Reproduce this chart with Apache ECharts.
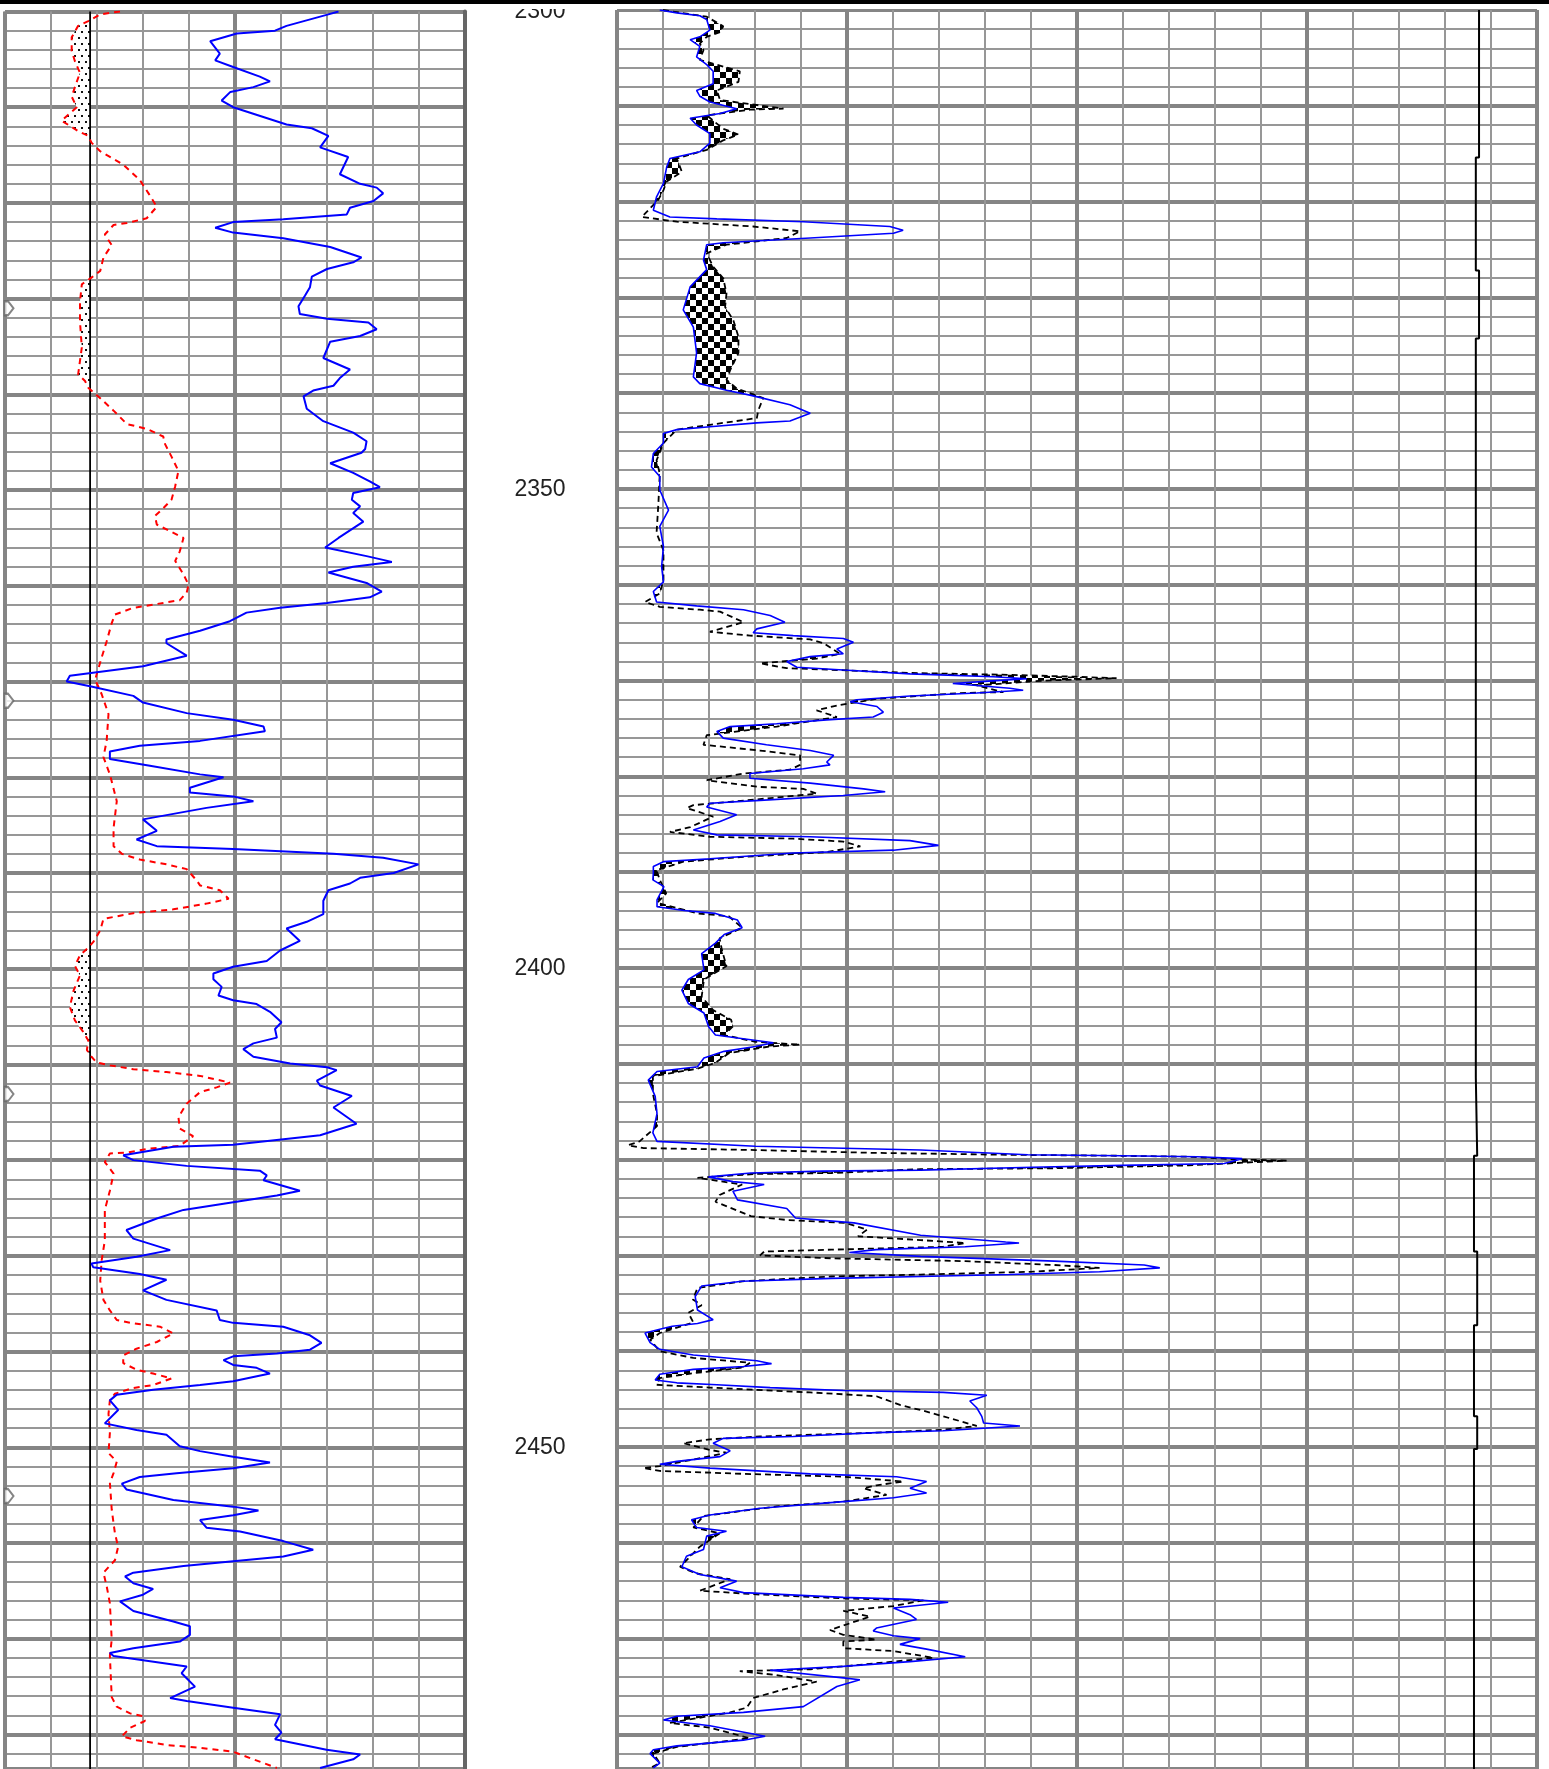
<!DOCTYPE html>
<html><head><meta charset="utf-8">
<script src="https://cdn.jsdelivr.net/npm/echarts@6/dist/echarts.min.js"></script>
<style>html,body{margin:0;padding:0;background:#fff}#c{width:1549px;height:1769px}</style>
</head><body><div id="c"></div>
<script>
// ---- data: [depth, value] (value in track grid divisions) ----
const depthTicks = [2300, 2350, 2400, 2450];
const leftBlue = [[2300,7.25],[2300.3,7.03],[2301.5,6.12],[2302,5.87],[2302.3,5.04],[2303.1,4.46],[2304.4,4.67],[2305.1,4.57],[2305.8,4.96],[2306.8,5.54],[2307.3,5.76],[2307.9,5.4],[2308.4,4.9],[2309.3,4.71],[2310,4.96],[2311.8,6.12],[2312.2,6.67],[2313,7.03],[2314.2,6.85],[2315.2,7.46],[2317,7.28],[2318,7.72],[2318.4,8.08],[2319,8.22],[2319.8,8.01],[2320.5,7.5],[2321.2,7.43],[2321.7,6.05],[2322,4.96],[2322.6,4.57],[2323.1,4.96],[2323.7,6.05],[2324.6,7.07],[2325.7,7.75],[2326.2,7.57],[2326.9,7.0],[2327.7,6.67],[2328.8,6.63],[2329.7,6.52],[2330.8,6.38],[2331.6,6.41],[2332.1,7.0],[2332.5,7.9],[2333.2,8.08],[2333.9,7.72],[2334.5,7.07],[2336.2,6.92],[2337.4,7.5],[2338.3,7.28],[2339.1,7.14],[2339.6,6.7],[2340.2,6.49],[2341.5,6.56],[2342.8,6.92],[2344,7.57],[2344.9,7.86],[2345.7,7.83],[2346.1,7.75],[2347.2,7.07],[2348.2,7.57],[2349.1,7.93],[2349.7,8.15],[2350.3,7.57],[2351,7.54],[2351.7,7.72],[2352.4,7.57],[2353.3,7.79],[2355,7.25],[2356,6.96],[2356.9,7.86],[2357.5,8.41],[2358,7.57],[2358.6,7.03],[2359.7,7.86],[2360.6,8.19],[2361.2,7.93],[2361.8,7.0],[2362.3,5.98],[2362.8,5.25],[2363.7,4.89],[2364.7,4.24],[2365.6,3.51],[2366,3.51],[2367.3,3.95],[2368.4,3.0],[2369.4,1.41],[2370,1.34],[2370.5,1.85],[2371.5,2.79],[2372.2,3.0],[2373.3,3.95],[2374,4.96],[2374.7,5.62],[2375.2,5.65],[2376.2,4.24],[2376.7,2.93],[2377.3,2.28],[2378.1,2.28],[2378.8,3.15],[2379.7,4.24],[2380,4.75],[2381.1,4.02],[2381.6,4.02],[2382,4.96],[2382.5,5.4],[2383.2,4.38],[2384.4,3.0],[2385.6,3.3],[2386.5,2.86],[2387.2,3.3],[2387.5,4.96],[2388,7.14],[2388.4,8.22],[2389.1,8.99],[2390,8.45],[2390.5,7.72],[2391.1,7.5],[2391.8,7.03],[2392.9,6.92],[2394.3,6.92],[2395.1,6.56],[2395.8,6.12],[2397.1,6.41],[2398.1,5.98],[2399.2,5.69],[2399.8,4.96],[2400.5,4.53],[2401.1,4.53],[2401.9,4.71],[2402.8,4.64],[2403.3,4.96],[2403.7,5.47],[2404.5,5.76],[2405.6,6.01],[2406.3,5.87],[2407.2,5.91],[2407.8,5.4],[2408.4,5.18],[2409.2,5.4],[2409.9,6.2],[2410.3,7.0],[2410.6,7.21],[2411.7,6.78],[2412.2,6.85],[2413.3,7.54],[2414.5,7.14],[2416.2,7.64],[2417.4,6.85],[2418.4,4.96],[2418.6,3.66],[2419.5,2.57],[2420,2.79],[2420.6,3.95],[2421.1,5.54],[2421.6,5.69],[2422.1,5.62],[2423.2,6.41],[2423.7,5.91],[2424.4,4.96],[2425.2,3.88],[2426.1,3.3],[2427.3,2.64],[2428.2,2.79],[2429.4,3.59],[2430.1,2.86],[2430.8,1.88],[2431.2,1.92],[2431.9,2.93],[2432.5,3.51],[2433.6,3.0],[2434.6,3.51],[2435.7,4.6],[2436.7,4.67],[2437.0,4.96],[2437.4,6.05],[2438.3,6.63],[2439.1,6.88],[2439.8,6.63],[2440.2,5.91],[2440.5,4.96],[2440.9,4.75],[2441.4,4.96],[2441.7,5.47],[2442.3,5.76],[2443.1,4.96],[2443.5,4.24],[2444,3.22],[2444.5,2.43],[2445.1,2.28],[2446.1,2.46],[2447.5,2.17],[2448.2,2.86],[2448.7,3.51],[2449.9,3.8],[2450.4,4.24],[2451,4.96],[2451.6,5.76],[2452.2,4.96],[2452.7,3.73],[2453.1,2.93],[2453.8,2.54],[2454.4,2.64],[2455.5,3.66],[2456.2,4.96],[2456.6,5.51],[2457.1,4.96],[2457.6,4.24],[2458.4,4.38],[2458.8,5.11],[2459.8,6.05],[2460.7,6.7],[2461.4,6.05],[2461.9,4.96],[2462.4,3.88],[2463.1,2.79],[2463.5,2.61],[2464.2,2.79],[2464.8,3.22],[2465.4,3.0],[2466.1,2.5],[2467.1,2.79],[2468.2,3.66],[2468.7,4.02],[2469.6,4.02],[2470.3,3.8],[2471,2.79],[2471.5,2.28],[2471.8,2.36],[2472.9,3.95],[2473.6,3.84],[2475,4.13],[2476.2,3.59],[2476.5,3.95],[2477.2,4.96],[2477.9,5.98],[2479,5.87],[2479.8,6.01],[2480.5,5.87],[2481.6,6.99],[2482.1,7.72],[2482.6,7.57],[2483.5,6.85]];
const leftRed = [[2300,2.5],[2300.3,2.07],[2301,1.81],[2301.5,1.59],[2302.7,1.45],[2304.1,1.45],[2305.2,1.52],[2306.4,1.63],[2307.9,1.52],[2308.9,1.45],[2310,1.56],[2311.4,1.23],[2312.5,1.59],[2313,1.81],[2313.7,1.88],[2314.6,2.07],[2316,2.57],[2317.6,2.93],[2319,3.12],[2320.4,3.3],[2321.6,3.08],[2322.1,2.65],[2322.3,2.36],[2323.3,2.17],[2324.4,2.32],[2325.7,2.14],[2327.1,2.07],[2327.8,1.88],[2328.5,1.67],[2330.3,1.63],[2332.4,1.63],[2335.1,1.67],[2336.5,1.63],[2337.9,1.59],[2338.6,1.74],[2339.3,1.81],[2340.4,2.07],[2341.7,2.36],[2343.1,2.65],[2343.6,3.08],[2344.4,3.44],[2345.2,3.48],[2346.5,3.62],[2348,3.77],[2349.6,3.7],[2351,3.62],[2351.9,3.44],[2352.7,3.26],[2353.6,3.3],[2354.3,3.59],[2355,3.88],[2356.4,3.8],[2357.4,3.7],[2358.8,3.88],[2359.9,3.99],[2360.7,3.95],[2361.5,3.8],[2361.9,3.3],[2362.3,2.79],[2363,2.39],[2363.9,2.32],[2365.8,2.21],[2367.5,2.1],[2369.8,1.96],[2371.3,2.1],[2373.4,2.25],[2376.2,2.21],[2377.9,2.14],[2379.7,2.28],[2382.5,2.43],[2385.3,2.36],[2387.2,2.36],[2388,2.54],[2388.6,2.93],[2389.1,3.51],[2389.6,3.95],[2390.8,4.17],[2391.3,4.24],[2391.8,4.67],[2392.7,4.86],[2393.2,4.38],[2393.8,3.66],[2394.2,2.79],[2394.8,2.14],[2396,2.07],[2397.2,1.92],[2397.8,1.81],[2398.6,1.63],[2399.7,1.52],[2400.7,1.63],[2402.3,1.49],[2404,1.41],[2405.4,1.52],[2406.6,1.7],[2407.5,1.81],[2408.5,1.78],[2409.2,1.88],[2409.8,1.99],[2410.1,2.28],[2410.5,2.79],[2410.8,3.51],[2411.2,4.24],[2411.9,4.89],[2412.4,4.6],[2412.9,4.24],[2414.1,3.95],[2415.5,3.77],[2416.7,3.8],[2417.5,4.09],[2418.5,3.8],[2418.8,3.15],[2419.2,2.65],[2419.3,2.28],[2420.2,2.17],[2421.4,2.36],[2423.2,2.28],[2425.2,2.17],[2428.4,2.17],[2430.5,2.1],[2432.6,2.07],[2434.6,2.14],[2435.7,2.28],[2436.7,2.43],[2437.0,2.72],[2437.4,3.37],[2438.1,3.66],[2439,3.3],[2439.7,2.86],[2440.4,2.57],[2441.2,2.57],[2441.9,2.86],[2442.3,3.22],[2442.8,3.62],[2443.5,3.22],[2443.8,2.79],[2444.4,2.39],[2445.1,2.28],[2446.5,2.25],[2448.5,2.28],[2450.6,2.25],[2451.5,2.43],[2452.7,2.36],[2453.7,2.28],[2456.5,2.32],[2459,2.39],[2460.4,2.46],[2461.8,2.39],[2463.1,2.14],[2464.5,2.21],[2466.3,2.28],[2470.1,2.32],[2471.8,2.28],[2476.1,2.32],[2477.1,2.43],[2477.8,2.72],[2478.1,3.01],[2478.6,3.04],[2479.3,2.72],[2480.2,2.54],[2480.6,2.86],[2481.1,3.51],[2481.4,4.24],[2481.8,4.96],[2482.6,5.4],[2483.5,5.91]];
const shaleBase = 1.85;
const tabDepths = [2331, 2372, 2413.1, 2455.1];
const rightBlue = [[2300,0.93],[2300.3,1.3],[2300.6,1.8],[2301,1.95],[2302.1,2.02],[2302.8,1.8],[2303.1,1.59],[2303.8,1.8],[2304.9,1.73],[2305.7,1.95],[2306.4,2.09],[2307.7,2.09],[2308.4,1.73],[2309,1.8],[2309.6,2.02],[2310.3,2.6],[2310.8,2.24],[2311.3,1.59],[2312,1.73],[2312.9,2.02],[2313.9,2.02],[2314.8,1.8],[2315.5,1.15],[2316.4,1.08],[2318.1,1.01],[2319.5,0.86],[2320.9,0.79],[2321.6,1.15],[2321.8,2.17],[2322.1,4.05],[2322.6,5.93],[2323,6.22],[2323.3,6.01],[2323.8,4.2],[2324.3,2.31],[2324.5,1.95],[2326.1,1.88],[2327.1,1.95],[2328.9,1.59],[2331.3,1.44],[2333.1,1.66],[2335.8,1.73],[2338.3,1.66],[2339,1.8],[2339.7,2.38],[2340.2,2.89],[2341.2,3.76],[2342.1,4.2],[2342.9,3.76],[2343.1,3.04],[2343.5,2.02],[2343.8,1.3],[2344.2,1.01],[2345.2,1.01],[2346.3,0.79],[2347.7,0.75],[2348.7,0.93],[2350.1,0.93],[2352.2,1.12],[2353.9,0.93],[2356,1.01],[2358.1,0.97],[2359.7,1.01],[2360.7,0.79],[2361.8,0.86],[2362.2,1.73],[2362.6,2.75],[2363.2,3.33],[2363.9,3.65],[2364.6,3.04],[2365,2.96],[2365.3,3.83],[2365.6,4.92],[2366,5.14],[2366.7,4.78],[2367.2,4.92],[2367.5,4.2],[2368,3.69],[2368.6,3.91],[2368.9,4.92],[2369.3,6.37],[2369.6,8.18],[2369.8,8.91],[2370,8.25],[2370.3,7.3],[2370.8,8.54],[2371,8.83],[2371.3,7.82],[2371.6,6.37],[2372,5.21],[2372.2,5.07],[2372.7,5.65],[2373.3,5.79],[2373.8,5.57],[2374.1,4.56],[2374.5,3.47],[2374.8,2.46],[2375.3,2.17],[2376,2.31],[2376.7,3.25],[2377.3,4.2],[2377.8,4.71],[2378.5,4.56],[2378.8,4.63],[2379.2,4.05],[2379.7,2.89],[2380.2,2.89],[2380.7,4.2],[2381.3,5.36],[2381.6,5.83],[2382,4.92],[2382.5,3.11],[2382.8,2.02],[2383.2,1.95],[2384,2.6],[2384.7,2.24],[2385.6,1.66],[2386.1,2.17],[2386.3,4.2],[2386.7,6.37],[2387.2,6.99],[2387.7,6.01],[2388,3.83],[2388.6,2.02],[2388.9,1.01],[2389.4,0.79],[2390.1,0.79],[2390.8,0.78],[2391.5,1.02],[2392.9,0.87],[2393.6,0.87],[2394,1.46],[2394.3,2.14],[2395,2.62],[2395.8,2.72],[2396.5,2.33],[2397.4,2.14],[2398.5,1.84],[2400.2,1.89],[2401.2,1.55],[2402.3,1.41],[2403.7,1.55],[2404.7,1.89],[2406.1,1.99],[2407,2.14],[2407.3,2.62],[2407.8,3.4],[2408.2,3.01],[2408.7,2.33],[2409.4,1.89],[2410.3,1.75],[2410.8,0.87],[2411.7,0.68],[2413.4,0.83],[2415.2,0.87],[2417.2,0.78],[2418.1,0.87],[2418.6,3.01],[2419,6.6],[2419.5,8.93],[2419.6,10.97],[2419.7,12.62],[2419.9,13.59],[2420.4,13.2],[2420.6,10.97],[2420.8,9.03],[2421.1,6.6],[2421.2,4.47],[2421.4,2.91],[2421.8,1.99],[2422.3,2.52],[2422.6,3.2],[2423.3,2.52],[2424.2,2.62],[2425.1,3.69],[2426.1,3.88],[2426.6,5.15],[2427.9,6.6],[2428.6,8.45],[2428.7,8.74],[2429.1,7.57],[2429.4,5.63],[2429.7,5.05],[2430.1,6.6],[2430.6,9.51],[2431,11.46],[2431.3,11.8],[2431.7,10.49],[2432,8.54],[2432.2,6.6],[2432.4,4.66],[2432.7,2.72],[2433.2,1.84],[2434.3,1.7],[2435.7,1.75],[2436.7,2.09],[2437.1,1.75],[2437.4,1.2],[2437.7,0.93],[2438.1,0.61],[2439.1,0.72],[2439.8,0.93],[2440.4,1.66],[2441,3.04],[2441.3,3.36],[2441.6,2.75],[2441.9,1.66],[2442.4,0.93],[2443,0.83],[2443.3,1.3],[2443.5,2.17],[2443.8,3.33],[2444.1,4.92],[2444.3,7.09],[2444.6,8.04],[2445.2,7.67],[2445.9,7.82],[2446.8,7.93],[2447.5,7.97],[2447.8,8.76],[2448.3,7.09],[2448.5,5.64],[2448.9,3.83],[2449.1,2.31],[2449.6,2.09],[2450.4,2.46],[2451,2.24],[2451.5,1.3],[2451.8,0.93],[2452.2,2.02],[2452.8,4.2],[2453.1,6.08],[2453.6,6.73],[2454.3,6.37],[2454.8,6.73],[2455.3,6.01],[2455.7,4.92],[2456.4,3.11],[2457.1,2.02],[2457.6,1.62],[2458.4,1.73],[2458.8,2.38],[2459.3,1.95],[2460.7,1.88],[2461.4,1.51],[2462.5,1.41],[2463.3,1.8],[2464,2.6],[2464.7,2.24],[2465.2,2.75],[2465.7,4.92],[2465.9,6.37],[2466.2,7.2],[2466.8,6.01],[2467.5,6.37],[2468,6.51],[2468.9,5.64],[2469.2,5.57],[2469.7,6.01],[2470,6.59],[2470.6,6.15],[2471.1,6.73],[2471.9,7.57],[2472.4,6.37],[2472.9,4.92],[2473.3,3.33],[2474.1,4.92],[2474.3,5.28],[2475,4.78],[2477.1,4.05],[2477.7,2.75],[2478.1,1.3],[2478.5,1.01],[2479.1,2.02],[2480.2,3.22],[2480.6,2.75],[2481.2,1.3],[2481.6,0.79],[2482,0.72],[2483,0.93],[2483.5,0.79]];
const rightDash = [[2300,1.0],[2300.7,1.95],[2301.7,2.31],[2302.3,2.24],[2302.8,1.95],[2303.5,1.8],[2304.2,1.88],[2305.2,1.8],[2306.4,2.67],[2307.5,2.64],[2308.4,2.17],[2309.4,2.24],[2310.3,3.62],[2310.4,2.89],[2311,1.95],[2312.4,2.31],[2313,2.64],[2313.6,2.31],[2314.6,1.95],[2315.5,1.3],[2316.9,1.41],[2317.9,1.08],[2318.8,1.01],[2319.8,0.9],[2321.6,0.54],[2322.1,1.3],[2322.6,2.96],[2323.1,3.98],[2323.8,3.69],[2324.5,2.38],[2325.4,1.95],[2326.8,2.09],[2328,2.31],[2329.6,2.38],[2331,2.35],[2332.4,2.53],[2334.1,2.64],[2335.8,2.64],[2337.6,2.46],[2338.6,2.38],[2339.5,2.6],[2340.5,3.18],[2341.8,3.07],[2342.6,3.04],[2343.3,2.02],[2343.8,1.3],[2345.2,1.01],[2347,0.86],[2348.4,0.93],[2351.5,0.9],[2354.6,0.86],[2356.4,1.01],[2359.5,1.01],[2360.9,0.93],[2361.8,0.61],[2362.3,0.93],[2362.6,1.8],[2362.8,2.24],[2363.9,2.75],[2364.9,2.02],[2365.3,2.89],[2365.7,4.2],[2366.1,4.49],[2367.2,4.85],[2367.7,4.34],[2368.2,3.11],[2368.7,3.69],[2368.9,4.8],[2369.2,6.37],[2369.4,8.54],[2369.6,9.99],[2369.75,10.86],[2370,9.27],[2370.5,7.82],[2371.2,8.4],[2371.3,7.46],[2371.9,5.65],[2372.6,4.78],[2373.1,4.34],[2373.8,4.78],[2374.8,3.47],[2375.7,1.95],[2376.7,1.88],[2377.3,3.11],[2377.8,3.98],[2378.8,3.98],[2379.3,3.76],[2379.7,2.75],[2380.4,1.95],[2381.1,3.11],[2381.3,4.05],[2381.8,4.34],[2382.4,3.04],[2383,1.66],[2383.3,1.52],[2384.2,2.09],[2385.3,1.59],[2385.8,1.15],[2386.3,2.02],[2386.5,3.83],[2386.8,4.92],[2387.3,5.29],[2387.9,4.56],[2388.4,2.75],[2388.9,1.44],[2389.8,0.86],[2390.8,0.93],[2392.2,1.07],[2393.2,0.87],[2394.3,1.75],[2394.6,2.43],[2395.8,2.72],[2396.9,2.23],[2398.1,2.28],[2399.8,2.38],[2401.2,1.89],[2403,1.84],[2404.4,2.09],[2405.4,2.48],[2406.1,2.52],[2407,2.33],[2407.7,3.01],[2408,3.98],[2408.2,3.3],[2408.9,2.43],[2409.9,2.14],[2410.5,1.75],[2411.3,0.78],[2413.1,0.78],[2415.2,0.87],[2416.5,0.87],[2418.1,0.49],[2418.5,0.24],[2418.8,0.58],[2419,3.01],[2419.3,5.63],[2419.5,8.54],[2419.6,10.97],[2419.7,12.43],[2420,13.59],[2420.1,14.56],[2420.6,12.43],[2420.9,9.51],[2421,6.6],[2421.4,4.66],[2421.5,3.01],[2421.9,1.75],[2422.6,2.72],[2423.7,2.23],[2424.4,2.14],[2425.9,2.91],[2426.3,3.69],[2426.6,4.95],[2427.3,5.44],[2428,5.24],[2428.4,6.6],[2428.7,7.57],[2429.1,7.09],[2429.4,4.66],[2429.6,3.2],[2430,3.11],[2430.3,4.66],[2430.6,7.57],[2431,9.51],[2431.3,10.49],[2431.7,9.03],[2432,6.6],[2432.2,4.66],[2432.7,2.72],[2433.4,1.75],[2434.6,1.65],[2435.2,1.84],[2436,1.55],[2437,1.66],[2438.1,0.93],[2438.8,0.72],[2440,0.93],[2440.7,1.66],[2441.2,2.89],[2441.7,2.75],[2442.3,1.66],[2442.8,0.93],[2443.5,0.86],[2443.8,2.02],[2444.3,4.2],[2444.7,5.64],[2445.6,6.15],[2446.3,6.73],[2447.3,7.46],[2447.8,7.82],[2448.2,7.09],[2448.5,5.64],[2448.9,3.11],[2449.2,2.02],[2449.6,1.44],[2450.3,2.02],[2450.6,2.38],[2451.3,1.66],[2452,0.93],[2452.2,0.57],[2452.5,0.93],[2452.8,2.75],[2453.1,4.92],[2453.6,6.22],[2454,5.64],[2454.3,5.36],[2455,5.86],[2455.7,4.92],[2456.2,3.47],[2457.2,1.88],[2458.4,1.66],[2459,2.24],[2460.4,1.8],[2462.5,1.37],[2463.2,1.73],[2463.8,2.46],[2465,1.8],[2465.4,3.11],[2465.8,4.92],[2466,6.66],[2466.6,6.01],[2467.1,4.92],[2467.7,5.5],[2469.1,4.63],[2469.6,4.92],[2470.1,5.64],[2470.3,4.92],[2471,4.92],[2471.3,6.01],[2472,6.88],[2472.9,4.92],[2473.2,4.2],[2473.4,2.67],[2473.8,3.47],[2474.5,4.34],[2475.3,3.62],[2476.2,2.96],[2477.2,2.82],[2477.7,2.46],[2478.8,1.15],[2479.3,2.02],[2480.4,2.89],[2480.9,2.02],[2481.3,1.3],[2482,0.79],[2483,0.93],[2483.5,0.72]];
const bitBreaks = [2300, 2315.4, 2327.2, 2334.3, 2411.4, 2419.6, 2429.6, 2437.3, 2446.8, 2450.2, 2483.61];
const bitVals = [18.74, 18.67, 18.74, 18.67, 18.70, 18.63, 18.70, 18.63, 18.70, 18.63];

// ---- helpers ----
const DMIN = 2300, DMAX = 2483.61;
const toXY = a => a.map(p => [p[1], p[0]]);
function interp(arr, d) {
  if (d <= arr[0][0]) return arr[0][1];
  if (d >= arr[arr.length-1][0]) return arr[arr.length-1][1];
  let lo = 0, hi = arr.length - 1;
  while (hi - lo > 1) { const m = (lo + hi) >> 1; if (arr[m][0] <= d) lo = m; else hi = m; }
  const a = arr[lo], b = arr[hi];
  return a[1] + (b[1]-a[1]) * (d - a[0]) / (b[0] - a[0]);
}
function fillPolys(leftFn, rightFn, d0, d1, step) {
  const polys = []; let L = null, R = null;
  for (let d = d0; d <= d1 + 1e-9; d += step) {
    const l = leftFn(d), r = rightFn(d);
    if (r > l) { if (!L) { L = []; R = []; } L.push([l, d]); R.push([r, d]); }
    else if (L) { polys.push(L.concat(R.reverse())); L = null; }
  }
  if (L) polys.push(L.concat(R.reverse()));
  return polys;
}
const leftFill = fillPolys(d => interp(leftRed, d), d => shaleBase, 2300, 2483.5, 0.05);
const rightFill = fillPolys(d => interp(rightBlue, d), d => interp(rightDash, d), 2300, 2483.5, 0.05);

function dotCanvas() {
  const c = document.createElement('canvas'); c.width = 7; c.height = 12;
  const g = c.getContext('2d'); g.fillStyle = '#fff'; g.fillRect(0,0,7,12);
  g.fillStyle = '#111'; g.fillRect(1,1,2,2); g.fillRect(4,7,2,2); return c;
}
function checkCanvas() {
  const c = document.createElement('canvas'); c.width = 12; c.height = 12;
  const g = c.getContext('2d'); g.fillStyle = '#fff'; g.fillRect(0,0,12,12);
  g.fillStyle = '#000'; g.fillRect(0,0,6,6); g.fillRect(6,6,6,6); return c;
}
const dotPat = { image: dotCanvas(), repeat: 'repeat' };
const chkPat = { image: checkCanvas(), repeat: 'repeat' };

const bitLine = [];
for (let i = 0; i < bitVals.length; i++) { bitLine.push([bitVals[i], bitBreaks[i]], [bitVals[i], bitBreaks[i+1]]); }

const thin = { show: true, lineStyle: { color: '#979797', width: 2 } };
const thick = { show: true, lineStyle: { color: '#858585', width: 4 } };
const off = { axisLine: { show: false }, axisTick: { show: false }, axisLabel: { show: false } };
function xa(grid, max, interval, split) { return Object.assign({ type: 'value', gridIndex: grid, min: 0, max: max, interval: interval, splitLine: split }, off); }
function ya(grid, interval, split) { return Object.assign({ type: 'value', gridIndex: grid, inverse: true, min: DMIN, max: DMAX, interval: interval, splitLine: split }, off); }

const depthAxis = { type: 'value', gridIndex: 0, inverse: true, min: DMIN, max: DMAX, interval: 50, position: 'right',
  splitLine: { show: false }, axisLine: { show: false }, axisTick: { show: false },
  axisLabel: { show: true, margin: 75, align: 'center', verticalAlign: 'middle', fontSize: 23, color: '#222',
    fontFamily: 'Liberation Sans, Arial, sans-serif', showMaxLabel: false, showMinLabel: true,
    formatter: v => depthTicks.indexOf(v) >= 0 ? String(v) : '' } };
const leftBorderAxis = Object.assign(ya(0, 10, thick), { axisLine: { show: true, onZero: false, lineStyle: { color: '#666', width: 4 } } });

function polySeries(polys, xi, yi, pat) {
  return { type: 'custom', xAxisIndex: xi, yAxisIndex: yi, clip: true, z: 2, silent: true,
    data: polys.map(p => p[0]),
    renderItem: (params, api) => {
      const pts = polys[params.dataIndex].map(p => api.coord(p));
      return { type: 'polygon', shape: { points: pts }, style: { fill: pat, stroke: null } };
    } };
}
const ln = (data, xi, yi, color, width, type, z) => ({ type: 'line', xAxisIndex: xi, yAxisIndex: yi, data: data,
  symbol: 'none', silent: true, z: z || 3, lineStyle: { color: color, width: width, type: type || 'solid' } });

const chart = echarts.init(document.getElementById('c'), null, { renderer: 'canvas' });
chart.setOption({
  animation: false,
  backgroundColor: '#fff',
  grid: [
    { left: 5, top: 10, width: 460, height: 1759 },
    { left: 617, top: 10, width: 920, height: 1759 }
  ],
  xAxis: [ xa(0, 10, 1, thin), xa(0, 10, 5, thick), xa(1, 20, 1, thin), xa(1, 20, 5, thick) ],
  yAxis: [ ya(0, 2, thin), leftBorderAxis, depthAxis, ya(1, 2, thin), ya(1, 10, thick) ],
  series: [
    polySeries(leftFill, 0, 0, dotPat),
    ln([[shaleBase, DMIN], [shaleBase, DMAX]], 0, 0, '#000', 1.8, 'solid', 3),
    ln(toXY(leftRed), 0, 0, '#ff0000', 2, [6, 5], 4),
    ln(toXY(leftBlue), 0, 0, '#0000ff', 2, 'solid', 5),
    { type: 'scatter', xAxisIndex: 0, yAxisIndex: 0, silent: true, z: 6,
      data: tabDepths.map(d => [0, d]),
      symbol: 'path://M0,0 L4,0 L10,7 L4,14 L0,14 Z', symbolSize: [9, 14], symbolOffset: [4, 0],
      itemStyle: { color: '#fff', borderColor: '#666', borderWidth: 2 } },
    polySeries(rightFill, 2, 3, chkPat),
    ln(bitLine, 2, 3, '#000', 2, 'solid', 3),
    ln(toXY(rightDash), 2, 3, '#000', 1.8, [6, 4], 4),
    ln(toXY(rightBlue), 2, 3, '#0000ff', 1.6, 'solid', 5)
  ],
  graphic: [
    { type: 'rect', z: 100, shape: { x: 0, y: 0, width: 1549, height: 9 }, style: { fill: '#fff' } },
    { type: 'rect', z: 101, shape: { x: 0, y: 0, width: 1549, height: 4 }, style: { fill: '#000' } }
  ]
});
</script>
</body></html>
